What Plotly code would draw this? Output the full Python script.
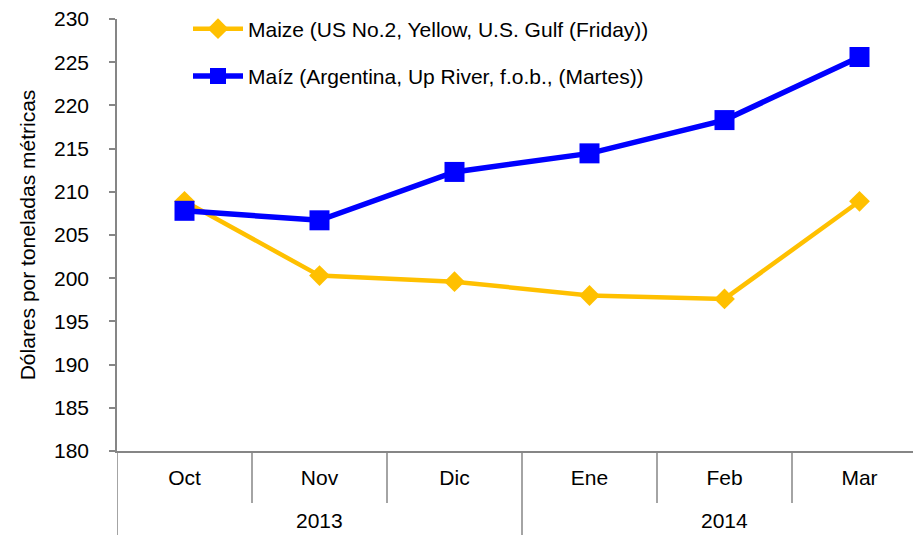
import plotly.graph_objects as go

years = ["2013", "2014"]
months = ["Oct", "Nov", "Dic", "Ene", "Feb", "Mar"]
maize_us = [208.9, 200.3, 199.6, 198.0, 197.6, 208.9]
maiz_arg = [207.8, 206.7, 212.3, 214.45, 218.3, 225.6]

name_us = "Maize (US No.2, Yellow, U.S. Gulf (Friday))"
name_arg = "Maíz (Argentina, Up River, f.o.b., (Martes))"

font = "Liberation Sans, Arial, sans-serif"
axcol = "#868686"
fs = 21

# the page body adds an 8 px offset; margins compensate for it
ML, MT, MB, MR = 109, 10, 92, 2
W, H = 921, 535
plot_h = H - MT - MB
plot_w = W - ML - MR

fig = go.Figure()
fig.add_trace(go.Scatter(
    x=months, y=maize_us, name=name_us, mode="lines+markers",
    line=dict(color="#FFC000", width=4.5),
    marker=dict(symbol="diamond", size=16, color="#FFC000"),
    legendgroup="a",
))
fig.add_trace(go.Scatter(
    x=months, y=maiz_arg, name=name_arg, mode="lines+markers",
    line=dict(color="#0000FF", width=5.5),
    marker=dict(symbol="square", size=20, color="#0000FF"),
    legendgroup="b",
))

# category dividers below the x axis
short = -52 / plot_h
long_ = -86 / plot_h
shapes = []
for i in range(len(months)):
    xpos = i - 0.5
    y1 = long_ if i in (0, 3) else short
    shapes.append(dict(type="line", xref="x", yref="paper", x0=xpos, x1=xpos,
                       y0=0, y1=y1, line=dict(color=axcol, width=1.5)))
# small stub of x axis line left of y axis
shapes.append(dict(type="line", xref="paper", yref="paper", x0=-8 / plot_w, x1=0,
                   y0=0, y1=0, line=dict(color=axcol, width=1.5)))

annotations = []
for j, yr in enumerate(years):
    annotations.append(dict(text=yr, xref="x", yref="paper", x=1 + 3 * j,
                            y=-70 / plot_h, showarrow=False,
                            font=dict(size=fs, family=font, color="black"),
                            xanchor="center", yanchor="middle"))

fig.update_layout(
    width=W, height=H,
    margin=dict(l=ML, r=MR, t=MT, b=MB),
    paper_bgcolor="white", plot_bgcolor="white",
    font=dict(family=font, size=fs, color="black"),
    showlegend=True,
    legend=dict(x=(188 - 117) / plot_w, y=1 + 9.5 / plot_h,
                xanchor="left", yanchor="top", itemwidth=50,
                bgcolor="rgba(0,0,0,0)", tracegroupgap=17,
                font=dict(size=fs)),
    shapes=shapes,
    annotations=annotations,
    xaxis=dict(
        type="category", range=[-0.5, 5.5], automargin=False,
        showline=True, linecolor=axcol, linewidth=1.5,
        ticks="", showgrid=False, tickfont=dict(size=fs),
        ticklabelstandoff=7,
    ),
    yaxis=dict(
        range=[180, 230], dtick=5, tick0=180, automargin=False,
        showline=True, linecolor=axcol, linewidth=1.5,
        ticks="outside", ticklen=6, tickcolor=axcol, tickwidth=1.5,
        showgrid=False, zeroline=False, tickfont=dict(size=fs),
        ticklabelstandoff=16, ticklabeloverflow="allow",
        title=dict(text="Dólares por toneladas métricas", font=dict(size=fs), standoff=13),
    ),
)

fig.write_html("out.html")
